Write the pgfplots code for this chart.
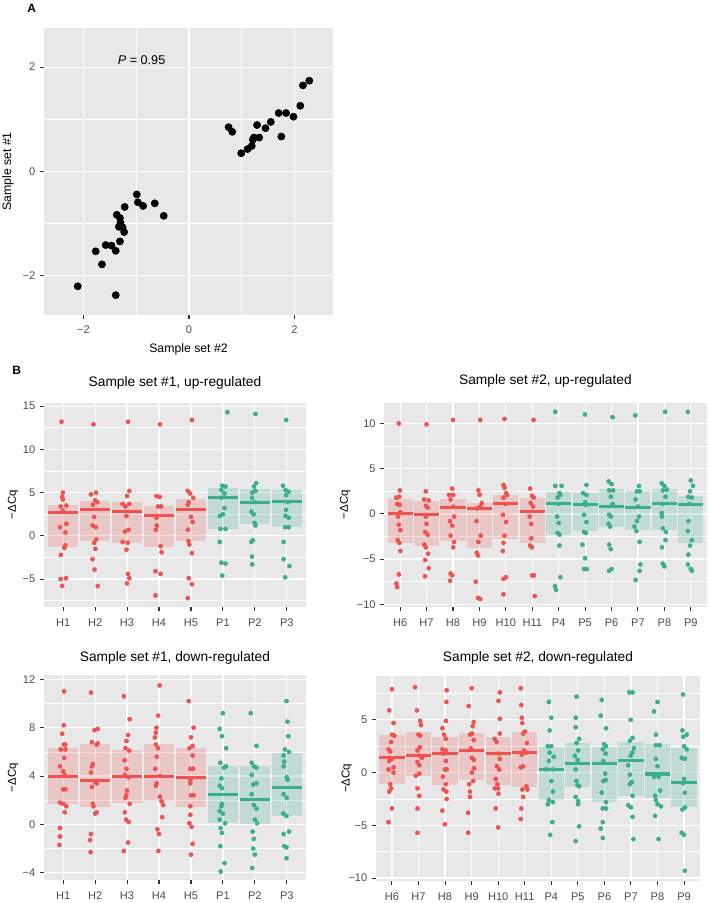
\documentclass[border=0pt]{standalone}
\usepackage{fontspec}
\setmainfont{Liberation Sans}
\usepackage{pgfplots}
\usepackage{pgfplotstable}
\pgfplotsset{compat=1.18}

\definecolor{redc}{HTML}{EE5350}
\definecolor{tealc}{HTML}{3AAE8F}
\definecolor{bgc}{HTML}{E8E8E8}

\pgfplotsset{
  gg/.style={
    scale only axis,
    axis background/.style={fill=bgc},
    axis line style={draw=none},
    grid=both,
    major grid style={white, line width=0.9pt},
    minor grid style={white, line width=0.45pt},
    tick align=outside,
    major tick length=3pt,
    minor tick length=0pt,
    tick pos=left,
    tick style={black!80, line width=0.8pt},
    ticklabel style={font=\fontsize{8.3}{9.5}\selectfont, text=black!70},
    xticklabel style={yshift=-2.3pt},
    label style={font=\fontsize{8.6}{10}\selectfont},
    title style={font=\fontsize{10.3}{12}\selectfont, at={(0.5,1)}, anchor=center},
    /pgf/number format/assume math mode=true,
  },
  nomark/.style={only marks, mark=*, mark size=0pt, mark options={draw opacity=0, fill opacity=0}, forget plot},
  rect/.style 2 args={nomark,
    error bars/y dir=both, error bars/y explicit, error bars/error mark=none,
    error bars/error bar style={line width=#2, #1, opacity=0.22}},
  mean/.style={nomark,
    error bars/x dir=both, error bars/x fixed=0.475, error bars/error mark=none,
    error bars/error bar style={line width=2.3pt, #1}},
  dots/.style={only marks, mark=*, mark size=1.55pt, #1, mark options={draw=#1, fill=#1}},
}

% panel A
\pgfplotstableread{
x y
2.28 1.74
2.16 1.65
2.11 1.26
1.98 1.05
1.84 1.12
1.70 1.12
1.75 0.67
1.55 0.95
1.45 0.83
1.29 0.89
1.33 0.65
1.23 0.65
1.21 0.61
1.19 0.49
1.11 0.43
0.99 0.35
0.75 0.85
0.82 0.76
-0.99 -0.44
-0.97 -0.59
-0.87 -0.66
-0.65 -0.61
-0.48 -0.85
-1.22 -0.68
-1.37 -0.83
-1.31 -0.89
-1.30 -0.98
-1.33 -1.06
-1.26 -1.07
-1.23 -1.16
-1.31 -1.34
-1.39 -1.52
-1.47 -1.42
-1.58 -1.41
-1.77 -1.53
-1.65 -1.78
-2.11 -2.20
-1.39 -2.37
}\scatterA

% mean and mean +/- sd per gene
\pgfplotstableread{
x m lo hi
1 2.7 -1.3 3.6
2 3.0 -0.6 4.0
3 2.8 -0.8 3.9
4 2.4 -1.3 3.5
5 3.1 -0.6 4.3
6 4.4 0.8 5.5
7 3.9 1.4 5.4
8 4.0 1.0 5.3
}\sumTL

\pgfplotstableread{
x m lo hi
1 0.0 -3.2 1.6
2 -0.1 -3.5 1.4
3 0.7 -3.0 1.7
4 0.6 -3.8 1.2
5 1.2 -2.8 2.1
6 0.3 -3.2 1.8
7 1.1 -2.3 2.4
8 1.0 -1.9 2.3
9 0.8 -1.4 2.7
10 0.7 -1.8 2.5
11 1.2 -1.8 2.8
12 1.0 -3.2 2.0
}\sumTR

\pgfplotstableread{
x m lo hi
1 3.95 1.65 6.3
2 3.65 1.45 6.65
3 3.95 1.75 6.15
4 3.95 1.9 6.65
5 3.85 1.4 6.3
6 2.45 0.15 4.85
7 2.05 0.0 4.85
8 3.05 0.7 5.9
}\sumBL

\pgfplotstableread{
x m lo hi
1 1.45 -1.07 3.55
2 1.6 -0.28 3.87
3 1.82 -1.16 3.33
4 2.08 -0.69 3.74
5 1.82 -1.13 3.33
6 1.92 -1.38 3.87
7 0.31 -2.64 2.45
8 0.88 -1.32 2.83
9 0.88 -2.8 2.45
10 1.13 -2.23 2.92
11 -0.13 -2.42 2.7
12 -0.91 -3.27 2.33
}\sumBR

% jittered samples
\pgfplotstableread{
x y
0.95 13.2
0.99 5.0
0.97 4.5
0.99 4.2
0.92 3.4
1.10 3.5
0.99 2.9
0.90 1.0
1.10 1.4
1.07 0.4
1.07 -1.1
1.04 -1.4
0.93 -2.2
0.92 -5.0
1.09 -4.9
0.97 -5.8
1.95 12.9
1.87 4.8
2.03 5.0
2.00 4.1
2.07 3.9
1.93 3.6
1.97 2.2
1.92 1.2
2.02 1.0
2.04 -0.4
1.97 -0.8
2.01 -1.5
1.92 -2.7
1.98 -3.9
2.08 -5.8
3.03 13.2
3.07 5.2
3.00 4.6
2.86 3.7
3.07 3.7
2.95 3.4
2.98 2.3
2.93 0.5
3.05 0.7
2.86 -0.7
3.02 -0.8
2.98 -1.6
3.03 -4.4
3.07 -4.9
3.00 -5.5
4.03 12.9
3.92 4.6
4.02 4.5
3.97 3.4
4.07 3.4
3.92 2.1
3.93 1.2
3.90 0.7
4.05 -1.2
4.08 -1.9
3.89 -4.1
4.05 -4.4
3.89 -6.9
5.03 13.4
4.90 5.2
4.97 4.9
5.07 4.4
4.93 3.9
4.90 3.6
5.00 2.2
5.05 1.6
4.90 0.7
4.92 -0.6
4.95 -1.0
5.03 -2.0
4.93 -4.9
5.03 -5.6
4.90 -7.2
6.14 14.3
5.98 5.8
6.08 5.7
5.95 5.3
6.05 4.9
5.95 4.4
6.05 3.2
5.90 2.3
6.00 2.5
5.92 0.8
6.08 0.8
5.90 -0.7
5.95 -3.1
6.08 -3.2
5.98 -4.6
7.02 14.1
7.04 6.1
6.97 5.7
6.92 5.0
7.02 5.2
6.91 4.4
7.00 3.9
6.89 2.8
6.96 2.5
6.99 1.5
7.02 1.2
6.94 -0.5
6.89 -0.7
6.91 -2.4
6.92 -3.3
7.98 13.4
7.88 5.8
7.96 5.3
8.06 5.1
7.98 4.7
8.03 3.9
7.98 3.0
8.06 2.1
7.96 2.3
7.95 1.0
8.06 1.0
7.90 -0.7
7.90 -2.7
8.08 -3.5
7.95 -4.8
}\ptsTL

\pgfplotstableread{
x y
0.95 10.0
0.99 2.6
0.86 1.8
0.97 1.9
0.89 1.1
0.99 1.0
1.01 0.2
0.92 -0.3
0.95 -1.2
1.01 -1.8
0.91 -2.9
0.97 -3.2
1.01 -4.1
0.95 -6.7
0.86 -7.7
0.89 -8.1
2.00 9.9
1.97 2.5
1.91 1.6
2.08 1.5
1.97 0.9
2.04 0.7
1.97 -0.3
2.00 -1.1
1.95 -2.0
2.04 -2.3
1.92 -3.4
1.97 -3.7
2.06 -4.4
1.95 -5.1
2.08 -6.0
1.94 -6.9
3.00 10.4
2.97 2.8
2.85 2.1
3.01 2.1
2.91 1.6
3.01 0.8
3.04 -0.3
2.89 -0.8
2.97 -1.3
2.91 -2.4
3.04 -3.1
3.01 -3.7
2.91 -6.6
2.97 -6.8
2.89 -7.4
4.03 10.4
3.96 2.6
4.01 2.1
4.09 1.2
4.03 0.8
3.92 0.6
3.89 -0.8
4.05 -2.4
3.96 -3.1
3.90 -4.3
3.95 -4.6
3.86 -7.5
3.95 -9.3
4.03 -9.4
4.95 10.5
4.91 3.2
4.95 2.9
5.01 2.3
5.05 2.1
4.91 1.8
4.99 1.1
4.89 -0.1
5.01 -0.9
4.95 -2.4
4.91 -3.2
4.89 -4.1
4.91 -7.2
5.01 -7.0
4.91 -8.9
6.05 10.4
5.92 2.8
5.99 2.0
6.06 1.8
5.94 1.2
6.03 0.8
5.90 -0.3
5.96 -1.1
5.96 -2.7
5.92 -3.5
5.99 -3.7
5.99 -6.8
6.06 -6.8
6.09 -9.1
6.87 11.3
6.87 3.1
7.11 3.1
7.03 2.3
6.96 1.8
7.06 2.1
7.00 1.1
6.94 -0.3
7.00 -1.0
6.96 -2.1
7.03 -2.3
7.03 -3.5
7.06 -7.0
6.86 -8.0
6.90 -8.4
7.99 11.0
8.05 3.2
7.92 2.3
8.05 2.1
8.00 1.3
8.03 1.0
7.96 -0.1
8.05 -0.9
7.96 -2.0
8.03 -2.1
7.90 -3.4
8.00 -4.9
7.96 -6.1
8.06 -6.1
9.04 10.7
8.89 3.6
9.00 3.3
8.91 2.6
9.06 2.6
8.97 1.9
9.04 1.1
8.91 -0.1
8.97 -0.3
8.89 -1.1
8.95 -1.4
8.91 -3.4
8.97 -3.9
8.91 -6.3
9.00 -6.1
9.90 10.9
10.04 3.1
9.96 2.5
10.06 2.5
9.91 1.6
10.00 0.8
10.04 -0.3
9.96 -0.8
9.87 -1.4
9.94 -1.9
10.06 -3.1
10.09 -5.6
10.06 -6.3
9.91 -7.3
11.03 11.3
10.90 3.4
11.00 3.1
10.94 2.6
11.09 2.7
11.04 1.9
10.94 1.1
10.90 0.1
10.91 -0.3
10.94 -1.6
11.06 -2.0
11.04 -2.9
10.91 -3.7
10.94 -5.5
11.00 -5.8
11.89 11.3
12.00 3.7
12.08 3.1
11.97 2.5
11.91 1.9
12.04 1.8
11.95 1.1
11.91 -0.8
11.89 -1.9
12.04 -2.9
11.97 -3.5
11.91 -4.5
11.89 -5.6
12.00 -6.1
12.04 -6.3
}\ptsTR

\pgfplotstableread{
x y
1.03 11.0
1.02 8.2
0.97 7.5
1.02 6.6
1.07 6.6
0.92 6.2
1.07 6.2
1.03 5.5
0.90 4.8
1.00 4.4
1.05 4.1
1.00 2.9
1.07 2.9
0.90 1.8
1.00 1.7
1.10 1.5
1.05 1.0
0.90 -0.3
0.90 -1.0
0.88 -1.7
1.87 10.9
1.98 7.8
2.08 7.9
1.90 6.8
2.05 6.6
2.08 6.7
1.93 5.0
1.90 4.8
1.87 4.3
2.00 3.5
2.05 3.4
1.90 3.1
1.93 1.7
1.95 1.5
2.05 1.0
2.00 0.9
1.87 -0.8
1.84 -1.3
1.86 -2.3
2.90 10.6
3.08 8.7
3.03 7.4
2.98 6.9
2.95 6.3
3.07 6.1
2.92 5.3
2.98 4.6
2.93 4.1
3.05 3.9
3.00 2.8
2.97 2.4
2.95 2.2
3.08 1.7
2.93 1.0
2.97 0.4
3.05 0.2
3.03 -1.5
2.90 -2.2
4.02 11.5
3.97 9.0
3.92 8.0
3.90 7.6
3.87 7.2
3.90 6.6
3.97 6.3
3.93 5.6
3.88 4.6
4.03 4.0
3.93 3.4
3.90 3.2
4.03 2.3
4.08 1.9
4.13 1.6
4.10 0.6
3.95 -0.4
4.00 -0.8
3.98 -2.2
4.93 10.2
5.08 8.0
5.00 7.2
5.05 6.5
4.95 6.3
5.05 5.7
4.98 4.6
5.07 4.6
4.98 3.7
4.98 3.4
5.00 2.4
5.08 2.4
4.98 1.5
4.98 0.8
4.95 0.1
5.02 -0.2
5.05 -1.6
5.00 -2.5
6.00 9.2
5.90 7.9
5.97 7.3
6.10 6.3
5.92 5.1
6.03 4.7
6.10 4.8
5.95 3.8
5.90 3.2
5.97 3.0
5.97 1.7
5.95 1.5
5.90 1.1
6.00 0.9
5.90 0.4
6.07 0.1
5.93 -0.3
5.97 -0.7
5.92 -1.8
6.05 -3.2
5.93 -3.9
6.87 9.2
7.05 6.5
6.90 5.1
6.97 4.8
7.05 4.7
6.90 4.1
7.05 3.4
6.95 3.3
6.90 2.5
6.97 1.6
7.05 1.3
7.00 0.4
7.07 0.1
6.93 -0.6
6.97 -1.2
6.95 -2.0
7.00 -2.5
6.92 -3.6
7.99 10.2
8.02 8.5
8.05 7.3
7.94 6.2
8.07 6.0
7.90 5.7
7.92 5.2
7.90 4.8
8.00 3.9
8.02 3.7
7.90 2.5
8.00 2.2
7.89 0.9
7.99 0.7
8.07 -0.6
7.90 -0.8
7.92 -1.8
7.99 -1.9
7.99 -2.8
}\ptsBL

\pgfplotstableread{
x y
1.00 7.9
0.90 5.9
1.06 4.7
1.00 3.6
1.09 3.5
0.97 2.9
0.87 2.2
0.94 2.0
1.00 1.3
0.90 1.1
1.06 0.5
0.87 0.3
1.06 0.0
0.94 -1.1
0.97 -1.5
0.90 -1.8
1.00 -3.4
0.87 -4.7
1.87 8.1
1.94 5.9
2.06 4.9
2.09 4.5
2.00 3.6
2.06 3.5
2.05 2.4
1.96 2.1
2.03 1.6
2.13 1.4
1.96 1.0
2.03 0.7
1.90 -0.3
2.03 -0.1
1.96 -1.5
2.03 -2.2
1.96 -3.4
1.96 -5.7
3.06 7.8
3.05 6.7
3.03 4.9
2.90 4.2
2.96 3.6
3.03 3.2
2.90 2.2
3.03 2.1
2.96 1.8
3.03 1.1
3.00 0.3
3.06 0.3
2.92 -0.4
3.03 -1.1
2.94 -1.6
3.05 -1.8
3.06 -2.5
2.90 -3.6
2.99 -4.9
4.00 8.0
3.89 6.3
4.08 4.8
4.04 4.4
4.01 3.7
3.94 3.6
4.08 3.1
3.97 2.3
4.01 1.4
4.08 1.2
4.10 0.4
4.01 0.0
4.06 -0.8
3.91 -1.1
3.94 -1.8
3.94 -2.3
3.87 -3.8
3.87 -5.7
5.06 7.6
5.01 6.8
5.06 5.1
5.06 3.7
4.87 3.2
4.94 2.9
5.01 1.8
5.06 1.3
4.95 0.6
5.04 0.3
4.91 -0.6
4.97 -1.1
4.87 -1.5
5.00 -1.5
5.01 -2.0
4.91 -3.4
5.00 -5.2
5.85 8.0
5.87 6.4
5.89 5.2
5.91 4.7
6.01 3.9
5.94 3.7
6.08 2.8
5.97 2.1
5.89 1.7
6.04 1.9
5.94 0.6
5.85 0.5
6.06 -1.3
5.91 -1.6
6.10 -1.6
5.94 -2.3
5.87 -3.4
5.85 -4.4
6.91 6.7
7.00 5.2
6.94 4.0
6.87 2.5
7.00 2.5
6.94 1.9
7.09 1.5
6.91 1.1
6.81 0.3
7.06 0.3
7.00 -0.8
7.06 -1.8
6.91 -2.6
7.06 -2.8
6.87 -3.0
7.04 -4.7
6.96 -5.9
7.95 7.2
7.92 5.2
7.92 4.3
8.05 3.2
7.95 2.8
8.01 2.1
7.89 1.6
7.99 1.2
7.92 0.3
7.95 -0.8
7.99 -1.2
8.05 -1.3
7.92 -2.3
8.01 -2.7
8.01 -3.0
8.05 -5.1
7.92 -6.5
8.90 6.9
8.86 5.4
9.06 4.2
8.99 2.7
9.06 2.5
8.94 2.2
9.05 1.8
8.96 1.1
9.03 -0.1
9.05 -0.7
8.96 -0.8
8.90 -1.9
9.06 -2.8
8.94 -3.4
9.06 -3.4
8.94 -4.7
8.86 -5.3
8.94 -6.2
9.94 7.6
10.06 7.6
9.99 5.0
10.06 3.3
9.96 3.0
10.11 2.3
10.05 1.9
9.99 1.6
9.90 0.7
9.96 -0.2
10.03 -0.9
9.96 -1.1
10.06 -2.2
9.90 -3.1
10.00 -3.3
10.06 -4.2
10.09 -6.3
11.00 6.7
10.87 5.8
10.94 3.6
10.94 2.6
11.08 2.6
10.94 1.3
11.00 0.6
10.87 -0.4
11.04 -0.4
11.10 -1.7
10.91 -2.2
10.94 -2.6
11.00 -3.0
11.13 -3.2
10.91 -4.1
11.04 -6.3
11.96 7.4
11.94 4.0
12.10 3.6
11.97 3.4
12.00 2.5
12.10 2.2
11.91 1.4
12.03 1.3
12.00 -0.6
11.96 -1.0
12.03 -1.9
12.04 -3.3
11.94 -3.5
11.91 -5.7
12.00 -5.9
12.03 -9.3
}\ptsBR

\begin{document}
\begin{tikzpicture}
\useasboundingbox (0pt,0pt) rectangle (531.75pt,677.25pt);

\node[font=\bfseries\fontsize{9}{10}\selectfont] at (23.8pt,671pt) {A};
\node[font=\bfseries\fontsize{9}{10}\selectfont] at (12.5pt,399.2pt) {B};

% ---------- A
\begin{axis}[gg, at={(33pt,441pt)}, anchor=south west,
    width=216.75pt, height=215.25pt,
    xmin=-2.75, xmax=2.73, ymin=-2.75, ymax=2.75,
    xtick={-2,0,2}, xticklabels={−2,0,2}, minor xtick={-1,1},
    ytick={-2,0,2}, yticklabels={−2,0,2}, minor ytick={-1,1},
    xticklabel style={yshift=1pt},
    label style={font=\fontsize{9.2}{11}\selectfont},
    xlabel={Sample set \#2}, ylabel={Sample set \#1},
    xlabel style={at={(axis description cs:0.5,-0.12)}, anchor=center},
    ylabel style={at={(axis description cs:-0.125,0.5)}, anchor=center},
  ]
  \addplot [only marks, mark=*, mark size=2.7pt, black] table [x=x, y=y] {\scatterA};
  \node[font=\fontsize{9.5}{11}\selectfont] at (axis cs:-0.9,2.14) {\textit{P} = 0.95};
\end{axis}

% ---------- B, set 1 up
\begin{axis}[gg, at={(33pt,222.2pt)}, anchor=south west,
    width=196.5pt, height=153pt,
    xmin=0.4, xmax=8.6, ymin=-8.2, ymax=15.4,
    xtick={1,...,8}, xticklabels={H1,H2,H3,H4,H5,P1,P2,P3},
    ytick={-5,0,5,10,15}, yticklabels={−5,0,5,10,15},
    minor ytick={-7.5,-2.5,2.5,7.5,12.5},
    title={Sample set \#1, up-regulated}, title style={yshift=8.8pt},
    ylabel={−ΔCq}, ylabel style={at={(axis description cs:-0.118,0.5)}, anchor=center},
  ]
  \addplot [rect={redc}{22.7pt}, restrict x to domain=0:5.5] table [x=x, y=m, y error plus expr=\thisrow{hi}-\thisrow{m}, y error minus expr=\thisrow{m}-\thisrow{lo}] {\sumTL};
  \addplot [rect={tealc}{22.7pt}, restrict x to domain=5.5:9] table [x=x, y=m, y error plus expr=\thisrow{hi}-\thisrow{m}, y error minus expr=\thisrow{m}-\thisrow{lo}] {\sumTL};
  \addplot [dots=redc, restrict x to domain=0:5.5] table [x=x, y=y] {\ptsTL};
  \addplot [dots=tealc, restrict x to domain=5.5:9] table [x=x, y=y] {\ptsTL};
  \addplot [mean=redc, restrict x to domain=0:5.5] table [x=x, y=m] {\sumTL};
  \addplot [mean=tealc, restrict x to domain=5.5:9] table [x=x, y=m] {\sumTL};
\end{axis}

% ---------- B, set 2 up
\begin{axis}[gg, at={(288.2pt,222.2pt)}, anchor=south west,
    width=241.8pt, height=153pt,
    xmin=0.4, xmax=12.6, ymin=-10.27, ymax=12.3,
    xtick={1,...,12}, xticklabels={H6,H7,H8,H9,H10,H11,P4,P5,P6,P7,P8,P9},
    ytick={-10,-5,0,5,10}, yticklabels={−10,−5,0,5,10},
    minor ytick={-7.5,-2.5,2.5,7.5},
    title={Sample set \#2, up-regulated}, title style={yshift=10.2pt},
    ylabel={−ΔCq}, ylabel style={at={(axis description cs:-0.122,0.5)}, anchor=center},
  ]
  \addplot [rect={redc}{18.8pt}, restrict x to domain=0:6.5] table [x=x, y=m, y error plus expr=\thisrow{hi}-\thisrow{m}, y error minus expr=\thisrow{m}-\thisrow{lo}] {\sumTR};
  \addplot [rect={tealc}{18.8pt}, restrict x to domain=6.5:13] table [x=x, y=m, y error plus expr=\thisrow{hi}-\thisrow{m}, y error minus expr=\thisrow{m}-\thisrow{lo}] {\sumTR};
  \addplot [dots=redc, restrict x to domain=0:6.5] table [x=x, y=y] {\ptsTR};
  \addplot [dots=tealc, restrict x to domain=6.5:13] table [x=x, y=y] {\ptsTR};
  \addplot [mean=redc, restrict x to domain=0:6.5] table [x=x, y=m] {\sumTR};
  \addplot [mean=tealc, restrict x to domain=6.5:13] table [x=x, y=m] {\sumTR};
\end{axis}

% ---------- B, set 1 down
\begin{axis}[gg, at={(33pt,17.25pt)}, anchor=south west,
    width=196.5pt, height=153.75pt,
    xmin=0.4, xmax=8.6, ymin=-4.6, ymax=12.36,
    xtick={1,...,8}, xticklabels={H1,H2,H3,H4,H5,P1,P2,P3},
    ytick={-4,0,4,8,12}, yticklabels={−4,0,4,8,12},
    minor ytick={-2,2,6,10},
    title={Sample set \#1, down-regulated}, title style={yshift=6.8pt},
    ylabel={−ΔCq}, ylabel style={at={(axis description cs:-0.118,0.5)}, anchor=center},
  ]
  \addplot [rect={redc}{22.7pt}, restrict x to domain=0:5.5] table [x=x, y=m, y error plus expr=\thisrow{hi}-\thisrow{m}, y error minus expr=\thisrow{m}-\thisrow{lo}] {\sumBL};
  \addplot [rect={tealc}{22.7pt}, restrict x to domain=5.5:9] table [x=x, y=m, y error plus expr=\thisrow{hi}-\thisrow{m}, y error minus expr=\thisrow{m}-\thisrow{lo}] {\sumBL};
  \addplot [dots=redc, restrict x to domain=0:5.5] table [x=x, y=y] {\ptsBL};
  \addplot [dots=tealc, restrict x to domain=5.5:9] table [x=x, y=y] {\ptsBL};
  \addplot [mean=redc, restrict x to domain=0:5.5] table [x=x, y=m] {\sumBL};
  \addplot [mean=tealc, restrict x to domain=5.5:9] table [x=x, y=m] {\sumBL};
\end{axis}

% ---------- B, set 2 down
\begin{axis}[gg, at={(282pt,16.7pt)}, anchor=south west,
    width=243pt, height=153.5pt,
    xmin=0.4, xmax=12.6, ymin=-10.25, ymax=9.15,
    xtick={1,...,12}, xticklabels={H6,H7,H8,H9,H10,H11,P4,P5,P6,P7,P8,P9},
    ytick={-10,-5,0,5}, yticklabels={−10,−5,0,5},
    minor ytick={-7.5,-2.5,2.5,7.5},
    title={Sample set \#2, down-regulated}, title style={yshift=7.5pt},
    ylabel={−ΔCq}, ylabel style={at={(axis description cs:-0.09,0.5)}, anchor=center},
  ]
  \addplot [rect={redc}{18.9pt}, restrict x to domain=0:6.5] table [x=x, y=m, y error plus expr=\thisrow{hi}-\thisrow{m}, y error minus expr=\thisrow{m}-\thisrow{lo}] {\sumBR};
  \addplot [rect={tealc}{18.9pt}, restrict x to domain=6.5:13] table [x=x, y=m, y error plus expr=\thisrow{hi}-\thisrow{m}, y error minus expr=\thisrow{m}-\thisrow{lo}] {\sumBR};
  \addplot [dots=redc, restrict x to domain=0:6.5] table [x=x, y=y] {\ptsBR};
  \addplot [dots=tealc, restrict x to domain=6.5:13] table [x=x, y=y] {\ptsBR};
  \addplot [mean=redc, restrict x to domain=0:6.5] table [x=x, y=m] {\sumBR};
  \addplot [mean=tealc, restrict x to domain=6.5:13] table [x=x, y=m] {\sumBR};
\end{axis}
\end{tikzpicture}
\end{document}
